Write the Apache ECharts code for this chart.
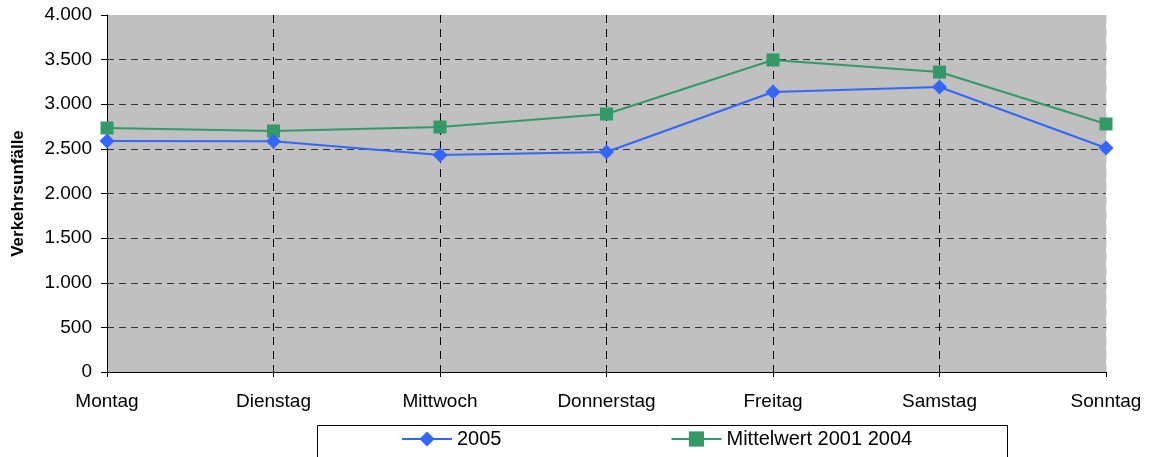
<!DOCTYPE html>
<html>
<head>
<meta charset="utf-8">
<script src="https://cdn.jsdelivr.net/npm/echarts@6/dist/echarts.min.js"></script>
<style>html,body{margin:0;padding:0;background:#fff;}#c{width:1149px;height:457px;}</style>
</head>
<body>
<div id="c"></div>
<script>
const categories = ['Montag','Dienstag','Mittwoch','Donnerstag','Freitag','Samstag','Sonntag'];
const values2005 = [2588, 2585, 2431, 2465, 3137, 3193, 2510];
const valuesMittel = [2734, 2700, 2745, 2891, 3496, 3361, 2779];
const seriesNames = ['2005', 'Mittelwert 2001 2004'];
const yAxisName = 'Verkehrsunfälle';

const font = 'Liberation Sans, Arial, sans-serif';
const chart = echarts.init(document.getElementById('c'), null, {renderer: 'canvas'});
chart.setOption({
  animation: false,
  backgroundColor: '#fff',
  grid: {left: 107, right: 43, top: 15, bottom: 85, show: true, backgroundColor: '#c0c0c0', borderWidth: 0,
         containLabel: false, outerBoundsMode: 'none'},
  graphic: [{
    type: 'rect', left: 315, top: 423, shape: {width: 690, height: 33},
    style: {fill: 'none', stroke: '#000', lineWidth: 1}, z: 10
  }],
  legend: {
    left: 396, top: 429, padding: [0, 5], itemWidth: 50, itemHeight: 19, itemGap: 169,
    textStyle: {fontFamily: font, fontSize: 20, color: '#000'},
    data: seriesNames
  },
  xAxis: {
    type: 'category', data: categories, boundaryGap: false,
    axisLine: {lineStyle: {color: '#000', width: 1}},
    axisTick: {show: true, length: 5, lineStyle: {color: '#000'}},
    axisLabel: {fontFamily: font, fontSize: 19, color: '#000', margin: 20},
    splitLine: {show: true, lineStyle: {color: ['#000','#000','#000','#000','#000','#000','#dcdcdc'], type: [8, 6], width: 1}}
  },
  yAxis: {
    type: 'value', min: 0, max: 4000, interval: 500,
    name: yAxisName, nameLocation: 'middle', nameGap: 80, nameRotate: 90,
    nameTextStyle: {fontFamily: font, fontSize: 17, fontWeight: 'bold', color: '#000'},
    axisLine: {show: true, lineStyle: {color: '#000', width: 1}},
    axisTick: {show: true, length: 6, lineStyle: {color: '#000'}},
    axisLabel: {fontFamily: font, fontSize: 19, color: '#000', margin: 15,
      formatter: v => v.toString().replace(/\B(?=(\d{3})+(?!\d))/g, '.')},
    splitLine: {show: true, lineStyle: {color: ['#333','#333','#333','#333','#333','#333','#333','#333','rgba(0,0,0,0)'], type: [7, 5], width: 1}}
  },
  series: [
    {name: seriesNames[0], type: 'line', data: values2005, symbol: 'diamond', symbolSize: 15,
     itemStyle: {color: '#3366ff'}, lineStyle: {color: '#3366ff', width: 2}, z: 3},
    {name: seriesNames[1], type: 'line', data: valuesMittel, symbol: 'rect', symbolSize: 13,
     itemStyle: {color: '#339966'}, lineStyle: {color: '#339966', width: 2}, z: 2}
  ]
});
</script>
</body>
</html>
